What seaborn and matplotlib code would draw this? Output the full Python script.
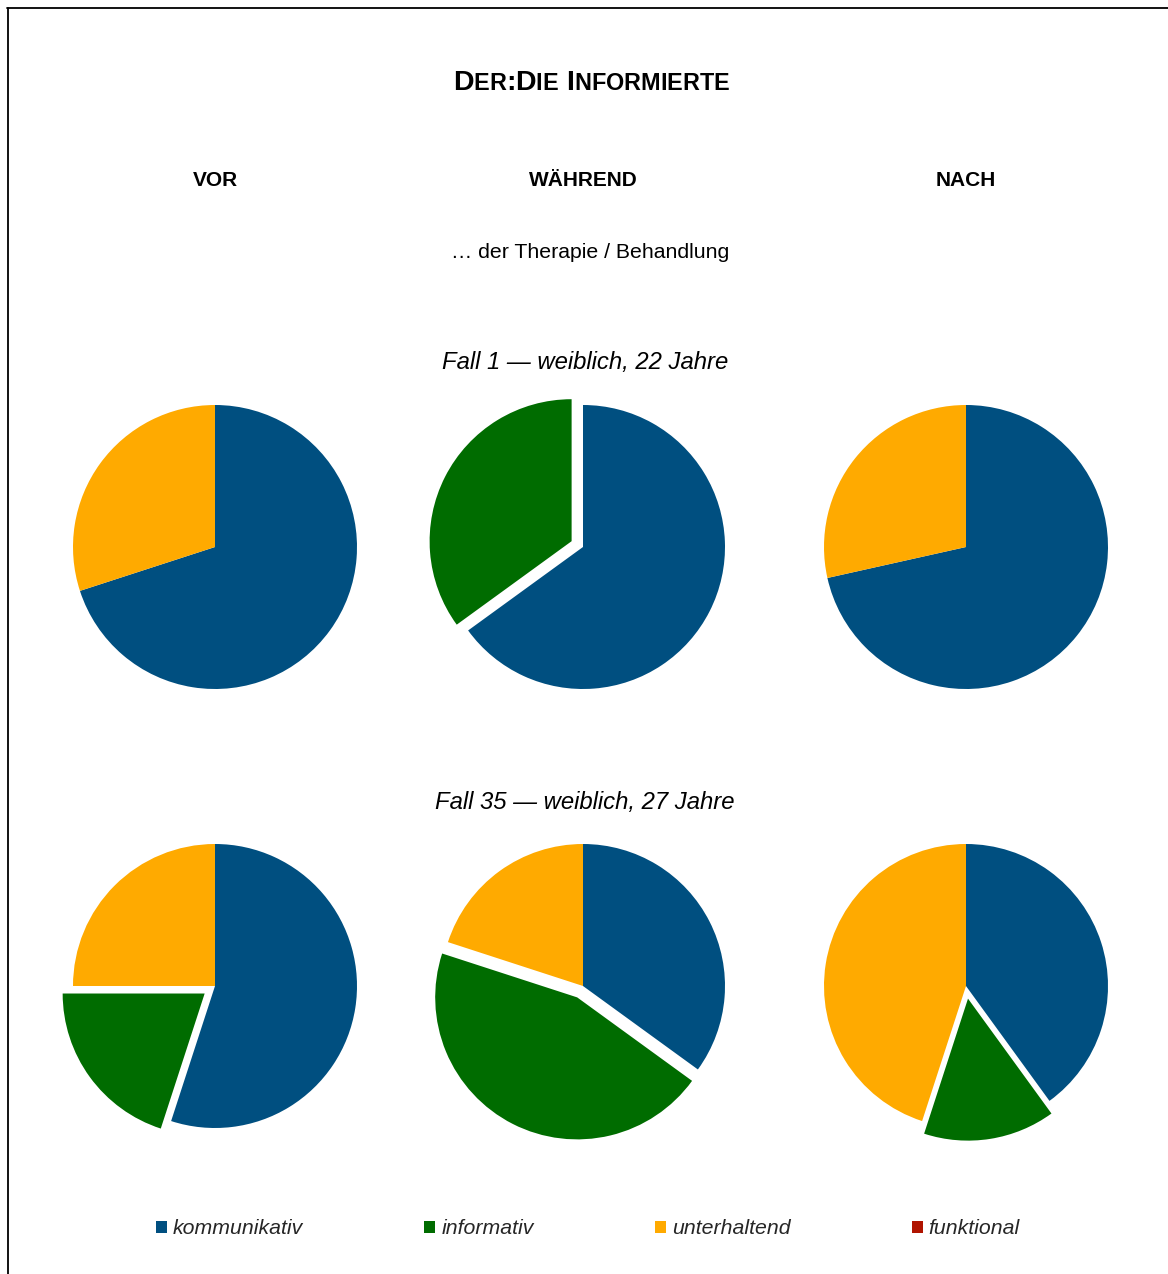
import matplotlib
matplotlib.use("Agg")
import matplotlib.pyplot as plt
from matplotlib.lines import Line2D
from matplotlib.patches import Patch
from matplotlib.offsetbox import TextArea, HPacker, AnnotationBbox
import seaborn as sns
import pandas as pd

# ---- data -----------------------------------------------------------------
categories = ["kommunikativ", "informativ", "unterhaltend", "funktional"]
phases = ["VOR", "WÄHREND", "NACH"]
cases = ["Fall 1 — weiblich, 22 Jahre", "Fall 35 — weiblich, 27 Jahre"]

# shares in percent per phase (VOR, WÄHREND, NACH)
fall1_kommunikativ = [70, 65, 71.5]
fall1_informativ = [0, 35, 0]
fall1_unterhaltend = [30, 0, 28.5]
fall1_funktional = [0, 0, 0]

fall35_kommunikativ = [55, 35, 40]
fall35_informativ = [20, 45, 15]
fall35_unterhaltend = [25, 20, 45]
fall35_funktional = [0, 0, 0]

palette_hex = ["#004F80", "#006C00", "#FFAA00", "#B01400"]

df = pd.DataFrame({
    "fall": [cases[0]] * 3 + [cases[1]] * 3,
    "phase": phases * 2,
    "kommunikativ": fall1_kommunikativ + fall35_kommunikativ,
    "informativ": fall1_informativ + fall35_informativ,
    "unterhaltend": fall1_unterhaltend + fall35_unterhaltend,
    "funktional": fall1_funktional + fall35_funktional,
})

# ---- style ----------------------------------------------------------------
sns.set_theme(style="white")
plt.rcParams["font.family"] = ["Liberation Sans", "DejaVu Sans"]
colors = sns.color_palette(palette_hex)

W, H = 1168, 1274
fig = plt.figure(figsize=(W / 100, H / 100), dpi=100)
fig.patch.set_facecolor("white")


def fx(px):
    return px / W


def fy(py):
    return 1 - py / H


# frame lines (top and left)
fig.add_artist(Line2D([fx(7), 1], [fy(8), fy(8)], transform=fig.transFigure,
                      color="black", lw=1.3))
fig.add_artist(Line2D([fx(8), fx(8)], [0, fy(8)], transform=fig.transFigure,
                      color="black", lw=1.3))


# ---- title in small caps ----------------------------------------------------
def small_caps_box(text, big=20.5, small=16.8):
    words = []
    for word in text.split(" "):
        parts = []
        for ch in word:
            if ch.islower():
                parts.append(TextArea(ch.upper(), textprops=dict(
                    fontsize=small, fontweight="bold", color="black")))
            else:
                parts.append(TextArea(ch, textprops=dict(
                    fontsize=big, fontweight="bold", color="black")))
        words.append(HPacker(children=parts, align="baseline", pad=0, sep=0))
    return HPacker(children=words, align="baseline", pad=0, sep=6)


title_box = small_caps_box("Der:Die Informierte")
fig.add_artist(AnnotationBbox(title_box, (fx(591), fy(83)),
                              xycoords="figure fraction", frameon=False,
                              box_alignment=(0.5, 0.5), pad=0))

# ---- headers ----------------------------------------------------------------
col_x = [215, 583, 966]
for x, ph in zip(col_x, phases):
    fig.text(fx(x), fy(180), ph, ha="center", va="center",
             fontsize=15, fontweight="bold", color="black")

fig.text(fx(590), fy(252), "… der Therapie / Behandlung", ha="center",
         va="center", fontsize=15.3, color="black")

row_y = [547, 986]
case_label_y = [363, 803]
for cy, case in zip(case_label_y, cases):
    fig.text(fx(585), fy(cy), case, ha="center", va="center",
             fontsize=17.2, fontstyle="italic", color="black")

# ---- pies -------------------------------------------------------------------
radius_px = 142
box_px = 2.5 * radius_px
explode = [0, 0.09, 0, 0]

for r, case in enumerate(cases):
    sub = df[df["fall"] == case].set_index("phase")
    for c, ph in enumerate(phases):
        cx, cy = col_x[c], row_y[r]
        ax = fig.add_axes([fx(cx - box_px / 2), fy(cy + box_px / 2),
                           box_px / W, box_px / H])
        vals = sub.loc[ph, categories].astype(float).tolist()
        ax.pie(vals, colors=colors, startangle=90, counterclock=False,
               explode=explode, radius=1,
               wedgeprops=dict(linewidth=0, edgecolor="none"))
        ax.set_xlim(-1.25, 1.25)
        ax.set_ylim(-1.25, 1.25)
        ax.axis("off")

# ---- legend -----------------------------------------------------------------
handles = [Patch(facecolor=col, edgecolor="none", label=lab)
           for col, lab in zip(colors, categories)]
fig.legend(handles=handles, loc="center", ncol=4,
           bbox_to_anchor=(fx(588), fy(1229)), frameon=False,
           prop=dict(size=15.3, style="italic"),
           handlelength=0.52, handleheight=0.52, handletextpad=0.28,
           columnspacing=5.7, borderpad=0)

fig.savefig("out.png", dpi=100, facecolor="white")
